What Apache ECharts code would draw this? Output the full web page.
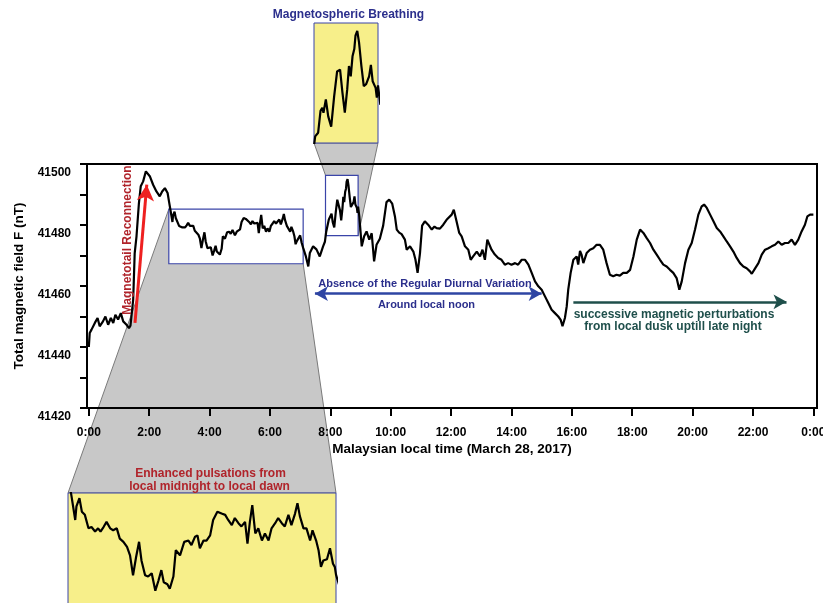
<!DOCTYPE html>
<html>
<head>
<meta charset="utf-8">
<script src="https://cdn.jsdelivr.net/npm/echarts@6/dist/echarts.min.js"></script>
<style>
  html, body { margin: 0; padding: 0; background: #ffffff; }
  #chart { width: 823px; height: 603px; }
</style>
</head>
<body>
<div id="chart"></div>
<script>
// Total magnetic field F (nT) against Malaysian local time (hours), 28 March 2017.
// Each segment is a list of [hour, nT] readings.
const nightSegment = [
  [0.00, 41440.0], [0.03, 41444.6], [0.09, 41445.7], [0.20, 41447.9], [0.29, 41449.5],
  [0.36, 41446.8], [0.47, 41448.4], [0.55, 41450.0], [0.64, 41447.3], [0.73, 41449.5],
  [0.81, 41447.9], [0.88, 41450.6], [0.97, 41449.0], [1.06, 41451.1], [1.14, 41448.4],
  [1.25, 41447.3], [1.33, 41446.2], [1.38, 41447.0], [1.47, 41455.5], [1.52, 41470.8],
  [1.58, 41476.3], [1.66, 41487.2], [1.72, 41492.7], [1.80, 41494.3], [1.89, 41497.6],
  [1.94, 41498.1], [2.02, 41496.0], [2.13, 41493.2], [2.24, 41491.0], [2.35, 41489.4],
  [2.43, 41491.0], [2.52, 41492.1], [2.61, 41490.5], [2.66, 41487.5]
];
const dawnSegment = [
  [2.71, 41484.6], [2.77, 41481.0], [2.79, 41483.1], [2.84, 41484.4], [2.88, 41482.3],
  [2.93, 41481.8], [2.99, 41479.7], [3.04, 41479.9], [3.10, 41479.2], [3.15, 41479.7],
  [3.19, 41479.2], [3.24, 41479.9], [3.29, 41480.7], [3.35, 41479.7], [3.40, 41479.4],
  [3.46, 41479.7], [3.51, 41478.1], [3.57, 41477.6], [3.63, 41476.8], [3.68, 41475.5],
  [3.73, 41472.4], [3.78, 41475.2], [3.83, 41477.6], [3.87, 41474.7], [3.93, 41472.4],
  [3.98, 41472.2], [4.04, 41472.7], [4.10, 41470.0], [4.15, 41471.5], [4.20, 41473.2],
  [4.24, 41471.3], [4.30, 41471.0], [4.34, 41470.3], [4.40, 41472.2], [4.44, 41476.3],
  [4.51, 41475.5], [4.58, 41477.6], [4.65, 41477.8], [4.70, 41477.1], [4.76, 41478.4],
  [4.80, 41478.6], [4.84, 41476.6], [4.90, 41477.8], [4.95, 41477.8], [5.01, 41478.6],
  [5.06, 41481.0], [5.13, 41482.3], [5.20, 41482.0], [5.26, 41481.8], [5.31, 41481.0],
  [5.37, 41480.2], [5.42, 41481.3], [5.48, 41480.5], [5.53, 41480.0], [5.59, 41480.7],
  [5.63, 41477.3], [5.67, 41480.7], [5.71, 41483.3], [5.76, 41478.9], [5.81, 41479.7],
  [5.87, 41477.8], [5.92, 41478.9], [5.98, 41477.8], [6.03, 41479.7], [6.09, 41480.5],
  [6.14, 41481.3], [6.20, 41480.5], [6.25, 41480.0], [6.31, 41481.8], [6.36, 41480.2],
  [6.42, 41482.0], [6.46, 41483.6], [6.50, 41481.6], [6.56, 41479.7], [6.61, 41479.7],
  [6.67, 41477.8], [6.71, 41479.4], [6.77, 41477.8], [6.81, 41476.3], [6.85, 41473.7],
  [6.89, 41474.7], [6.95, 41474.9], [7.00, 41476.6], [7.05, 41474.2], [7.08, 41473.7]
];
const morningSegment = [
  [7.10, 41472.5], [7.19, 41469.7], [7.27, 41466.4], [7.32, 41470.8], [7.43, 41473.0],
  [7.54, 41472.0], [7.65, 41469.7], [7.76, 41473.0], [7.82, 41474.5], [7.86, 41477.6],
  [7.91, 41478.2], [7.95, 41481.8], [7.98, 41482.3], [8.00, 41481.5], [8.04, 41483.7],
  [8.08, 41480.9], [8.13, 41479.2], [8.18, 41484.2], [8.23, 41488.3], [8.28, 41488.6],
  [8.32, 41484.8], [8.36, 41481.5], [8.40, 41485.3], [8.43, 41489.2], [8.46, 41487.5],
  [8.49, 41490.8], [8.52, 41492.0], [8.54, 41494.2], [8.57, 41495.0], [8.60, 41493.1],
  [8.64, 41489.2], [8.68, 41485.9], [8.72, 41486.2], [8.77, 41487.5], [8.80, 41489.4],
  [8.83, 41486.7], [8.88, 41485.6], [8.90, 41484.0], [8.92, 41486.0], [8.96, 41482.8],
  [9.04, 41473.0], [9.12, 41476.3], [9.20, 41477.9], [9.29, 41475.2], [9.37, 41477.3],
  [9.45, 41468.1], [9.53, 41473.5], [9.64, 41475.5], [9.75, 41479.8], [9.86, 41487.5],
  [9.95, 41488.3], [10.05, 41487.0], [10.14, 41482.8], [10.20, 41478.5], [10.28, 41477.5],
  [10.36, 41477.0], [10.47, 41475.2], [10.53, 41471.9], [10.64, 41473.0], [10.75, 41471.3],
  [10.82, 41468.6], [10.89, 41464.3], [10.97, 41470.8], [11.04, 41479.8], [11.13, 41481.2],
  [11.24, 41480.1], [11.36, 41478.5], [11.45, 41479.5], [11.52, 41479.0], [11.63, 41478.8],
  [11.74, 41480.1], [11.85, 41481.7], [11.91, 41481.2]
];
const afternoonSegment = [
  [12.02, 41483.4], [12.09, 41485.0], [12.18, 41481.2], [12.27, 41477.4], [12.35, 41476.3],
  [12.46, 41473.0], [12.57, 41471.9], [12.65, 41468.6], [12.73, 41469.7], [12.85, 41471.3],
  [12.96, 41469.7], [13.04, 41471.9], [13.12, 41468.6], [13.20, 41475.2], [13.26, 41475.7],
  [13.34, 41471.9], [13.45, 41470.3], [13.56, 41469.2], [13.67, 41468.6], [13.78, 41467.0],
  [13.89, 41467.5], [14.00, 41467.0], [14.12, 41467.5], [14.22, 41467.0], [14.34, 41468.6],
  [14.45, 41468.6], [14.56, 41467.0], [14.67, 41464.3], [14.78, 41461.5], [14.89, 41459.9],
  [15.00, 41458.8], [15.11, 41456.6], [15.22, 41454.4], [15.33, 41452.2], [15.44, 41451.1],
  [15.55, 41450.0], [15.63, 41448.9], [15.69, 41446.8], [15.77, 41449.5], [15.83, 41453.3],
  [15.88, 41458.8], [15.96, 41464.3], [16.05, 41468.6], [16.16, 41469.7], [16.21, 41467.0],
  [16.27, 41471.5], [16.32, 41470.3], [16.38, 41467.5], [16.49, 41470.8], [16.60, 41471.9],
  [16.71, 41472.4], [16.82, 41473.5], [16.93, 41473.5], [17.04, 41471.9], [17.15, 41467.5],
  [17.26, 41463.7], [17.37, 41463.2], [17.48, 41463.7], [17.59, 41463.4], [17.70, 41464.3],
  [17.82, 41464.3], [17.93, 41465.3]
];
const eveningSegment = [
  [18.04, 41469.7], [18.15, 41475.2], [18.26, 41478.5], [18.37, 41477.4], [18.48, 41475.7],
  [18.59, 41474.1], [18.70, 41471.9], [18.81, 41470.3], [18.92, 41468.6], [19.03, 41467.0],
  [19.14, 41466.4], [19.25, 41465.3], [19.36, 41464.3], [19.47, 41462.6], [19.56, 41458.8],
  [19.64, 41461.5], [19.75, 41467.5], [19.86, 41471.9], [19.97, 41474.1], [20.08, 41478.5],
  [20.19, 41483.4], [20.30, 41486.1], [20.38, 41486.7], [20.47, 41485.6], [20.58, 41483.4],
  [20.69, 41481.2], [20.80, 41479.0], [20.91, 41477.9], [21.02, 41476.3], [21.13, 41474.6],
  [21.24, 41473.0], [21.35, 41471.3], [21.46, 41469.2], [21.57, 41467.5], [21.68, 41466.4],
  [21.79, 41465.8], [21.90, 41464.8], [21.96, 41464.0], [22.07, 41465.8], [22.18, 41467.5],
  [22.29, 41470.3], [22.40, 41471.9], [22.51, 41472.4], [22.62, 41473.0], [22.73, 41473.5],
  [22.84, 41474.6], [22.95, 41473.5], [23.06, 41474.1], [23.17, 41474.1], [23.28, 41475.2],
  [23.39, 41473.5], [23.50, 41475.2], [23.61, 41477.9], [23.72, 41480.1], [23.80, 41482.8],
  [23.89, 41483.4], [24.00, 41483.4]
];

// Axis ticks
const TIME_TICKS = [0, 2, 4, 6, 8, 10, 12, 14, 16, 18, 20, 22, 24];
const FIELD_MIN = 41420;
const FIELD_MAX = 41500;
const FIELD_STEP = 10;
const FIELD_LABEL_STEP = 20;

// Zoomed windows: [start hour, end hour, low nT, high nT]
const breathingWindow = [7.84, 8.92, 41476.5, 41496.3];
const pulsationWindow = [2.65, 7.10, 41467.3, 41485.2];

// Annotation arrows: [[hour, nT], [hour, nT]]
const reconnectionArrow = [[1.53, 41447.9], [1.92, 41493.2]];
const noonArrow = [[7.49, 41457.5], [15.0, 41457.5]];
const duskArrow = [[16.05, 41454.8], [23.11, 41454.8]];

const fieldSeries = [].concat(nightSegment, dawnSegment, morningSegment, afternoonSegment, eveningSegment);

// Keep the readings inside a window plus one neighbour each side so the clipped line reaches the edges.
function windowed(data, w) {
  let first = data.findIndex(p => p[0] >= w[0]);
  let last = -1;
  for (let i = data.length - 1; i >= 0; i--) { if (data[i][0] <= w[1]) { last = i; break; } }
  return data.slice(Math.max(0, first - 1), Math.min(data.length, last + 2));
}

const FONT = '"Liberation Sans", Arial, Helvetica, sans-serif';
const BLACK = '#000000';
const FRAME_BLUE = '#3a44a8';
const INSET_YELLOW = '#f7ef8a';
const CONNECTOR_GREY = '#c8c8c8';
const NAVY = '#2b2f8c';
const ARROW_BLUE = '#2e45a3';
const DARK_RED = '#b0242b';
const BRIGHT_RED = '#ee2020';
const TEAL = '#1f4f4b';

const chart = echarts.init(document.getElementById('chart'), null, { renderer: 'canvas' });

const boldText = size => ({ fontFamily: FONT, fontWeight: 'bold', fontSize: size, color: BLACK });
const fixedGrid = g => Object.assign({ outerBoundsMode: 'none', containLabel: false }, g);

const option = {
  animation: false,
  backgroundColor: '#ffffff',
  grid: [
    fixedGrid({ left: 87, top: 164, width: 730, height: 244, show: true, borderColor: BLACK, borderWidth: 2, backgroundColor: 'transparent' }),
    fixedGrid({ left: 314, top: 23, width: 64, height: 120, show: true, backgroundColor: INSET_YELLOW, borderColor: FRAME_BLUE, borderWidth: 1 }),
    fixedGrid({ left: 68, top: 493, width: 268, height: 115, show: true, backgroundColor: INSET_YELLOW, borderColor: FRAME_BLUE, borderWidth: 1 })
  ],
  xAxis: [
    {
      gridIndex: 0, type: 'value', min: -0.06, max: 24.12,
      axisLine: { show: true, onZero: false, lineStyle: { color: BLACK, width: 2 } },
      axisTick: { show: true, inside: false, length: 8, customValues: TIME_TICKS, lineStyle: { color: BLACK, width: 2 } },
      axisLabel: Object.assign({ customValues: TIME_TICKS, margin: 19, formatter: v => (Math.round(v) % 24) + ':00' }, boldText(12)),
      splitLine: { show: false },
      name: 'Malaysian local time (March 28, 2017)', nameLocation: 'middle', nameGap: 34,
      nameTextStyle: boldText(13.5)
    },
    { gridIndex: 1, type: 'value', min: breathingWindow[0], max: breathingWindow[1], show: false },
    { gridIndex: 2, type: 'value', min: pulsationWindow[0], max: pulsationWindow[1], show: false }
  ],
  yAxis: [
    {
      gridIndex: 0, type: 'value', min: FIELD_MIN, max: FIELD_MAX, interval: FIELD_STEP,
      axisLine: { show: true, onZero: false, lineStyle: { color: BLACK, width: 2 } },
      axisTick: { show: true, inside: false, length: 7, lineStyle: { color: BLACK, width: 2 } },
      axisLabel: Object.assign({ margin: 16, verticalAlign: 'top', padding: [3, 0, 0, 0],
        formatter: v => (v % FIELD_LABEL_STEP === 0 ? String(v) : '') }, boldText(12)),
      splitLine: { show: false },
      name: 'Total magnetic field F (nT)', nameLocation: 'middle', nameGap: 55, nameRotate: 90,
      nameTextStyle: boldText(13.5)
    },
    { gridIndex: 1, type: 'value', min: breathingWindow[2], max: breathingWindow[3], show: false, scale: true },
    { gridIndex: 2, type: 'value', min: pulsationWindow[2], max: pulsationWindow[3], show: false, scale: true }
  ],
  series: [
    {
      name: 'F', type: 'line', xAxisIndex: 0, yAxisIndex: 0, data: fieldSeries,
      showSymbol: false, symbol: 'none', lineStyle: { color: BLACK, width: 2.2 }, z: 3, silent: true,
      markLine: {
        silent: true, animation: false, label: { show: false },
        emphasis: { disabled: true },
        data: [
          [
            { coord: reconnectionArrow[0], symbol: 'none', lineStyle: { color: BRIGHT_RED, width: 3, type: 'solid' } },
            { coord: reconnectionArrow[1], symbol: 'arrow', symbolSize: [13, 16] }
          ],
          [
            { coord: noonArrow[0], symbol: 'arrow', symbolSize: [11, 13], lineStyle: { color: ARROW_BLUE, width: 2.5, type: 'solid' } },
            { coord: noonArrow[1], symbol: 'arrow', symbolSize: [11, 13] }
          ],
          [
            { coord: duskArrow[0], symbol: 'none', lineStyle: { color: TEAL, width: 2.5, type: 'solid' } },
            { coord: duskArrow[1], symbol: 'arrow', symbolSize: [11, 13] }
          ]
        ]
      }
    },
    {
      name: 'F breathing', type: 'line', xAxisIndex: 1, yAxisIndex: 1, data: windowed(fieldSeries, breathingWindow),
      showSymbol: false, symbol: 'none', clip: true, lineStyle: { color: BLACK, width: 2.2 }, z: 3, silent: true
    },
    {
      name: 'F pulsations', type: 'line', xAxisIndex: 2, yAxisIndex: 2, data: windowed(fieldSeries, pulsationWindow),
      showSymbol: false, symbol: 'none', clip: true, lineStyle: { color: BLACK, width: 2.2 }, z: 3, silent: true
    }
  ]
};

chart.setOption(option);

// Window outlines and grey connectors, placed through the axes' own scales.
const mainPx = p => chart.convertToPixel({ xAxisIndex: 0, yAxisIndex: 0 }, p);
const insetPx = (i, p) => chart.convertToPixel({ xAxisIndex: i, yAxisIndex: i }, p);

function windowCorners(w) {
  return { tl: mainPx([w[0], w[3]]), br: mainPx([w[1], w[2]]) };
}

const bW = windowCorners(breathingWindow);
const pW = windowCorners(pulsationWindow);
const bInsetBL = insetPx(1, [breathingWindow[0], breathingWindow[2]]);
const bInsetBR = insetPx(1, [breathingWindow[1], breathingWindow[2]]);
const pInsetTL = insetPx(2, [pulsationWindow[0], pulsationWindow[3]]);
const pInsetTR = insetPx(2, [pulsationWindow[1], pulsationWindow[3]]);

const txt = (x, y, text, color, size, extra) => Object.assign({
  type: 'text', x: x, y: y, silent: true, z: 5,
  style: { text: text, fill: color, fontFamily: FONT, fontWeight: 'bold', fontSize: size, align: 'center', verticalAlign: 'middle' }
}, extra || {});

const connectorStyle = { fill: CONNECTOR_GREY, stroke: '#7a7a7a', lineWidth: 1 };

chart.setOption({
  graphic: [
    { type: 'polygon', silent: true, z: -1, shape: { points: [bInsetBL, bInsetBR, bW.br, bW.tl] }, style: connectorStyle },
    { type: 'polygon', silent: true, z: -1, shape: { points: [pW.tl, pW.br, pInsetTR, pInsetTL] }, style: connectorStyle },
    { type: 'rect', silent: true, z: 1, shape: { x: bW.tl[0], y: bW.tl[1], width: bW.br[0] - bW.tl[0], height: bW.br[1] - bW.tl[1] },
      style: { fill: '#ffffff', stroke: FRAME_BLUE, lineWidth: 1.2 } },
    { type: 'rect', silent: true, z: 1, shape: { x: pW.tl[0], y: pW.tl[1], width: pW.br[0] - pW.tl[0], height: pW.br[1] - pW.tl[1] },
      style: { fill: '#ffffff', stroke: FRAME_BLUE, lineWidth: 1.2 } },
    txt(348.5, 14.5, 'Magnetospheric Breathing', NAVY, 12),
    txt(128, 240, 'Magnetotail Reconnection', DARK_RED, 12, { rotation: Math.PI / 2 }),
    txt(425, 283.5, 'Absence of the Regular Diurnal Variation', NAVY, 11),
    txt(426.5, 305, 'Around local noon', NAVY, 11),
    txt(674, 314.5, 'successive magnetic perturbations', TEAL, 12),
    txt(673, 327, 'from local dusk uptill late night', TEAL, 12),
    txt(210.5, 473.5, 'Enhanced pulsations from', DARK_RED, 12),
    txt(209.5, 487, 'local midnight to local dawn', DARK_RED, 12)
  ]
});
</script>
</body>
</html>
